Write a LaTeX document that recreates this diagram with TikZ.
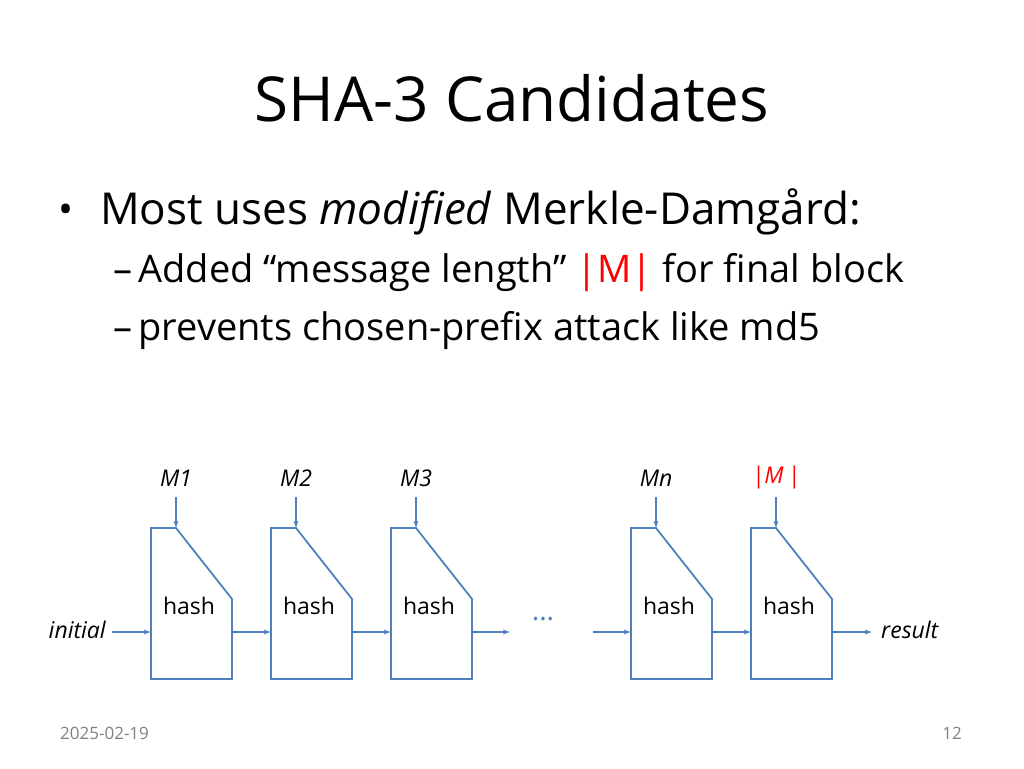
\documentclass[tikz,border=0pt]{standalone}
\usepackage{fontspec}
\setmainfont{Open Sans}
\begin{document}
\begin{tikzpicture}[x=1pt,y=-1pt,
  blk/.style={line width=1.8pt},
  arr/.style={line width=1.3pt,-latex},
  lbl/.style={inner sep=0pt,font=\fontsize{23}{26}\selectfont\itshape}]
\definecolor{bl}{RGB}{79,129,189}
\useasboundingbox (0,0) rectangle (1024,768);
\node[anchor=center,inner sep=0pt] (title) at (512,98) {\fontsize{62}{70}\selectfont SHA-3 Candidates};
\node[anchor=west,inner sep=0pt] (bul) at (58,214) {\fontsize{40}{44}\selectfont •};
\node[anchor=west,inner sep=0pt] (b1) at (100,212) {\fontsize{44}{50}\selectfont Most uses \textit{modified} Merkle-Damgård:};
\node[anchor=west,inner sep=0pt] (b2) at (113,273) {\fontsize{38}{44}\selectfont –\,Added “message length” \textcolor{red}{|M|} for final block};
\node[anchor=west,inner sep=0pt] (b3) at (113,331) {\fontsize{38}{44}\selectfont –\,prevents chosen-prefix attack like md5};
\foreach \i/\x/\m in {1/151/M1,2/271/M2,3/391/M3,4/631/Mn,5/751/{\textcolor{red}{|M\,|}}}{
  \draw[blk,draw=bl] (\x,528) -- (\x+25,528) -- (\x+81,599) -- (\x+81,679) -- (\x,679) -- cycle;
  \coordinate (l\i) at (\x,632);
  \coordinate (r\i) at (\x+81,632);
  \coordinate (t\i) at (\x+25,528);
  \coordinate (s\i) at (\x+25,497);
  \node[inner sep=0pt,font=\fontsize{23}{26}\selectfont] (h\i) at (\x+38,606) {hash};
  \node[lbl] (m\i) at (\x+25,478) {\m};
  \draw[arr,draw=bl] (s\i) -- (t\i);
}
\node[lbl,anchor=east] (init) at (106,630) {initial};
\node[lbl,anchor=west] (res) at (881,630) {result};
\coordinate (c0) at (112,632);
\coordinate (c3) at (510,632);
\coordinate (c4) at (593,632);
\coordinate (c6) at (872,632);
\node[inner sep=0pt,text=bl,font=\fontsize{28}{28}\selectfont] (dots) at (543,619) {...};
\draw[arr,draw=bl] (c0) -- (l1);
\draw[arr,draw=bl] (r1) -- (l2);
\draw[arr,draw=bl] (r2) -- (l3);
\draw[arr,draw=bl] (r3) -- (c3);
\draw[arr,draw=bl] (c4) -- (l4);
\draw[arr,draw=bl] (r4) -- (l5);
\draw[arr,draw=bl] (r5) -- (c6);
\node[anchor=west,inner sep=0pt,text=gray,font=\fontsize{17}{20}\selectfont] (date) at (60,733) {2025-02-19};
\node[anchor=east,inner sep=0pt,text=gray,font=\fontsize{17}{20}\selectfont] (pg) at (962,733) {12};
\end{tikzpicture}
\end{document}
